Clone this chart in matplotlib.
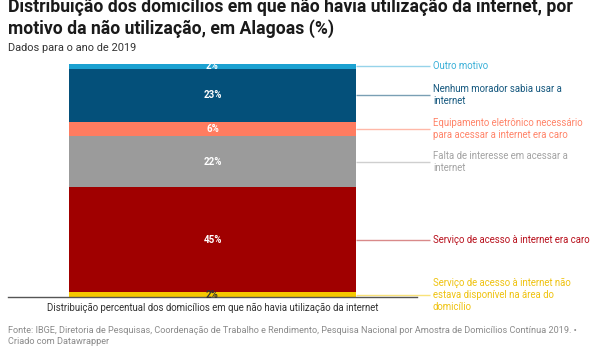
import matplotlib
matplotlib.use("Agg")
import matplotlib.pyplot as plt

plt.rcParams['font.family'] = ['Roboto', 'DejaVu Sans']

# Data (bottom to top)
categories = [
    "Serviço de acesso à internet não\nestava disponível na área do\ndomicílio",
    "Serviço de acesso à internet era caro",
    "Falta de interesse em acessar a\ninternet",
    "Equipamento eletrônico necessário\npara acessar a internet era caro",
    "Nenhum morador sabia usar a\ninternet",
    "Outro motivo",
]
values = [2, 45, 22, 6, 23, 2]
value_labels = ["2%", "45%", "22%", "6%", "23%", "2%"]

bar_colors = ["#f5c800", "#a00000", "#9b9b9b", "#ff7c60", "#04507a", "#1ba1d1"]
text_colors = ["#efc20f", "#b8101c", "#a3a3a3", "#ff8469", "#15587f", "#3ab0d8"]
line_colors = ["#f9e27a", "#d98a8a", "#cfcfcf", "#ffb8a8", "#7a9fb4", "#96d3ea"]
pct_colors = ["#333333", "white", "white", "white", "white", "white"]

W, H = 600, 350
ax_l, ax_r = 8, 417
ax_w = ax_r - ax_l
fig = plt.figure(figsize=(6, 3.5), dpi=100)
ax = fig.add_axes([ax_l/W, 1-297/H, ax_w/W, 233/H])

def fx(px):
    return (px - ax_l) / ax_w

bar_x = fx(212.5)
bar_w = 287 / ax_w
bottom = 0
for v, c, lab, tc, lc, pc, cat in zip(values, bar_colors, value_labels, text_colors,
                                      line_colors, pct_colors, categories):
    ax.bar(bar_x, v, width=bar_w, bottom=bottom, color=c, linewidth=0, zorder=1)
    mid = bottom + v / 2
    ax.text(bar_x, mid, lab, ha='center', va='center', color=pc, fontsize=7.0,
            fontweight='bold', zorder=4)
    ax.plot([fx(356), fx(430)], [mid, mid], color=lc, lw=1, clip_on=False,
            solid_capstyle='butt', zorder=2)
    ax.text(fx(433), mid, cat, ha='left', va='center', color=tc, fontsize=6.9,
            linespacing=1.25, clip_on=False)
    bottom += v

ax.set_xlim(0, 1)
ax.set_ylim(0, 100)
for s in ['top', 'right', 'left']:
    ax.spines[s].set_visible(False)
ax.spines['bottom'].set_color('#555555')
ax.spines['bottom'].set_linewidth(1)
ax.spines['bottom'].set_zorder(3)
ax.set_xticks([])
ax.set_yticks([])
ax.set_xlabel("Distribuição percentual dos domicílios em que não havia utilização da internet",
              fontsize=6.9, color='#333333')
ax.xaxis.set_label_coords(bar_x, -0.025)
ax.xaxis.label.set_verticalalignment('top')

fig.text(8/W, 1-7/H, "Distribuição dos domicílios em que não havia utilização da internet, por",
         ha='left', va='center', fontsize=12.7, fontweight='bold', color='#1a1a1a')
fig.text(8/W, 1-28.5/H, "motivo da não utilização, em Alagoas (%)",
         ha='left', va='center', fontsize=12.7, fontweight='bold', color='#1a1a1a')
fig.text(8/W, 1-48/H, "Dados para o ano de 2019", ha='left', va='center', fontsize=7.9, color='#333333')
fig.text(8/W, 1-330/H,
         "Fonte: IBGE, Diretoria de Pesquisas, Coordenação de Trabalho e Rendimento, Pesquisa Nacional por Amostra de Domicílios Contínua 2019. •",
         ha='left', va='center', fontsize=6.55, color='#8a8a8a')
fig.text(8/W, 1-342/H, "Criado com Datawrapper",
         ha='left', va='center', fontsize=6.55, color='#8a8a8a')

fig.savefig("out.png", dpi=100)
